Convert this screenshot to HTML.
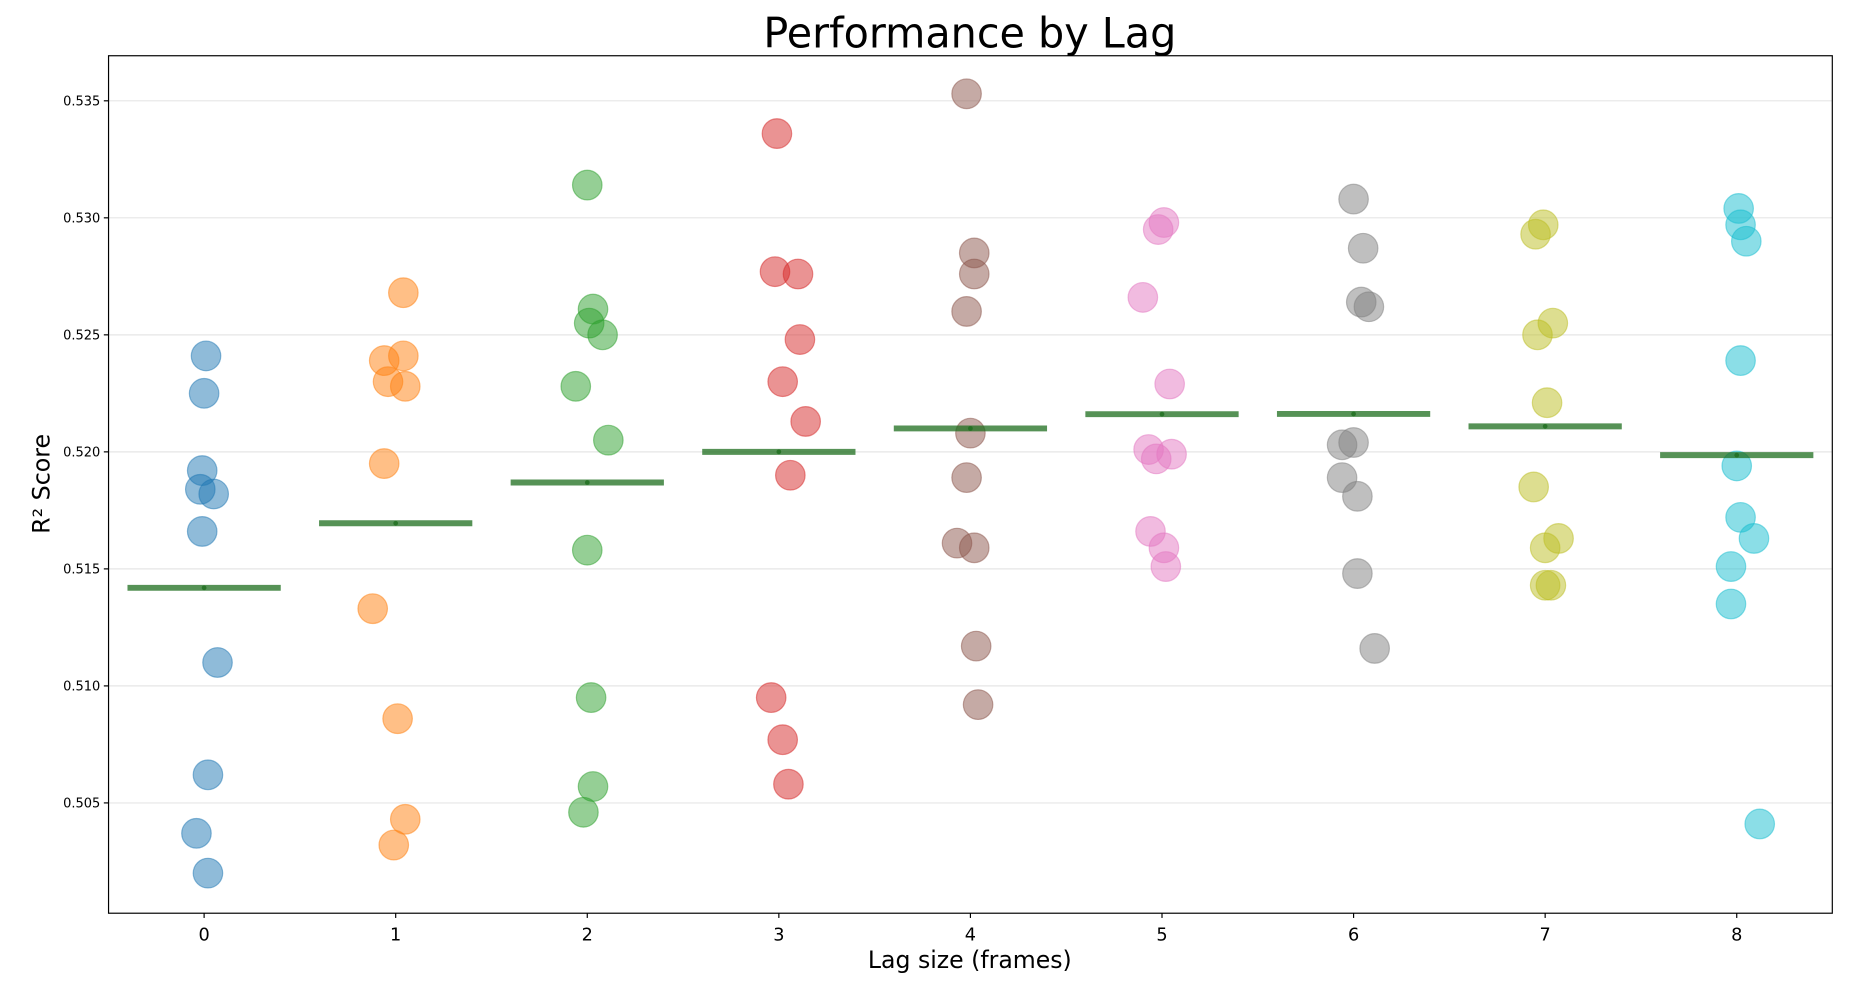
<!DOCTYPE html>
<html><head><meta charset="utf-8"><style>
html,body{margin:0;padding:0;background:#fff;}
svg{display:block;font-family:"DejaVu Sans","Liberation Sans",sans-serif;}
</style></head><body>
<svg id="chart" width="1850" height="982" viewBox="0 0 1568 828" preserveAspectRatio="none" xmlns="http://www.w3.org/2000/svg">
<text x="822" y="40" text-anchor="middle" font-size="35">Performance by Lag</text>
<g id="grid"></g>
<g id="points"></g>
<g id="means"></g>
<rect x="92" y="47" width="1461" height="723" fill="none" stroke="#000" stroke-width="1"/>
<g id="xticks"></g>
<g id="yticks"></g>
<text x="822" y="816" text-anchor="middle" font-size="20">Lag size (frames)</text>
<text transform="translate(42,408) rotate(-90)" text-anchor="middle" font-size="20">R² Score</text>
</svg>
<script>
const lags = [0,1,2,3,4,5,6,7,8];
const colors = ["#1f77b4","#ff7f0e","#2ca02c","#d62728","#8c564b","#e377c2","#7f7f7f","#bcbd22","#17becf"];
const scores = [
 [0.5241,0.5225,0.5192,0.5184,0.5182,0.5166,0.5110,0.5062,0.5037,0.5020],
 [0.5268,0.5239,0.5241,0.5230,0.5228,0.5195,0.5133,0.5086,0.5043,0.5032],
 [0.5314,0.5261,0.5255,0.5250,0.5228,0.5205,0.5158,0.5095,0.5057,0.5046],
 [0.5336,0.5277,0.5276,0.5248,0.5230,0.5213,0.5190,0.5095,0.5077,0.5058],
 [0.5353,0.5285,0.5276,0.5260,0.5208,0.5189,0.5161,0.5159,0.5117,0.5092],
 [0.5298,0.5295,0.5266,0.5229,0.5201,0.5197,0.5199,0.5166,0.5159,0.5151],
 [0.5308,0.5287,0.5264,0.5262,0.5203,0.5204,0.5189,0.5181,0.5148,0.5116],
 [0.5297,0.5293,0.5255,0.5250,0.5221,0.5185,0.5163,0.5159,0.5143,0.5143],
 [0.5304,0.5297,0.5290,0.5239,0.5194,0.5172,0.5163,0.5151,0.5135,0.5041]
];
const jitter = [
 [0.01,0.00,-0.01,-0.02,0.05,-0.01,0.07,0.02,-0.04,0.02],
 [0.04,-0.06,0.04,-0.04,0.05,-0.06,-0.12,0.01,0.05,-0.01],
 [0.00,0.03,0.01,0.08,-0.06,0.11,0.00,0.02,0.03,-0.02],
 [-0.01,-0.02,0.10,0.11,0.02,0.14,0.06,-0.04,0.02,0.05],
 [-0.02,0.02,0.02,-0.02,0.00,-0.02,-0.07,0.02,0.03,0.04],
 [0.01,-0.02,-0.10,0.04,-0.07,-0.03,0.05,-0.06,0.01,0.02],
 [0.00,0.05,0.04,0.08,-0.06,0.00,-0.06,0.02,0.02,0.11],
 [-0.01,-0.05,0.04,-0.04,0.01,-0.06,0.07,0.00,0.00,0.03],
 [0.01,0.02,0.05,0.02,0.00,0.02,0.09,-0.03,-0.03,0.12]
];
const yTicks = [0.505,0.510,0.515,0.520,0.525,0.530,0.535];
const yTickLabels = ["0.505","0.510","0.515","0.520","0.525","0.530","0.535"];
const NS="http://www.w3.org/2000/svg";
const X = v => 173 + v*(1472-173)/8;
const Y = v => 85 + (0.535 - v)*(677-85)/0.030;
function mk(tag, attrs, parent){const e=document.createElementNS(NS,tag);for(const k in attrs)e.setAttribute(k,attrs[k]);parent.appendChild(e);return e;}
const grid=document.getElementById('grid'),pts=document.getElementById('points'),means=document.getElementById('means'),xt=document.getElementById('xticks'),yt=document.getElementById('yticks');
yTicks.forEach((t,i)=>{
  const g=mk('line',{x1:92,x2:1553,y1:Y(t),y2:Y(t),stroke:'#e6e6e6','stroke-width':1},grid);
  
  
  const tk=mk('line',{x1:88,x2:92,y1:Y(t),y2:Y(t),stroke:'#000'},yt);
  
  
  const tx=mk('text',{x:85,y:Y(t)+4,'text-anchor':'end','font-size':11},yt);
  tx.textContent=yTickLabels[i];
  
  
});
lags.forEach((l,i)=>{
  const tk=mk('line',{x1:X(l),x2:X(l),y1:770,y2:774,stroke:'#000'},xt);
  
  
  const tx=mk('text',{x:X(l),y:793,'text-anchor':'middle','font-size':15},xt);
  tx.textContent=String(l);
  
  
  scores[i].forEach((s,j)=>{
    const c=mk('circle',{cx:X(l+jitter[i][j]),cy:Y(s),r:12.5,fill:colors[i],'fill-opacity':0.5,stroke:colors[i],'stroke-opacity':0.5,'stroke-width':1},pts);
    
    
  });
  const m=scores[i].reduce((a,b)=>a+b,0)/scores[i].length;
  const ln=mk('line',{x1:X(l-0.4),x2:X(l+0.4),y1:Y(m),y2:Y(m),stroke:'#1e6e1e','stroke-opacity':0.75,'stroke-width':5},means);
  
  
  const d=mk('circle',{cx:X(l),cy:Y(m),r:2,fill:'#1e6e1e','fill-opacity':0.8},means);
  
  
});
</script>
</body></html>
